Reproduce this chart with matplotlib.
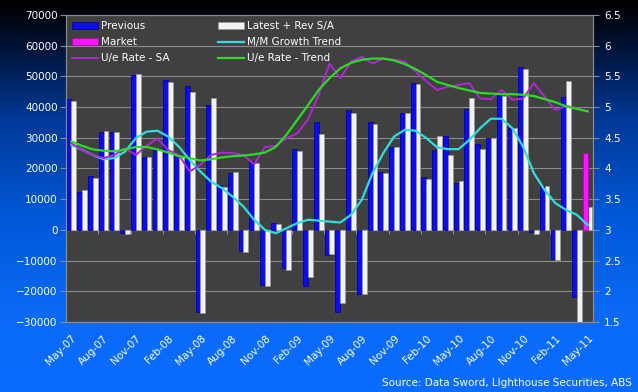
import numpy as np
import pandas as pd
import matplotlib
matplotlib.use("Agg")
import matplotlib.pyplot as plt
from matplotlib.colors import LinearSegmentedColormap
from matplotlib.ticker import FormatStrFormatter

# monthly categories May-07 .. May-11, labelled every third month
MONTHS = pd.date_range("2007-05-01", "2011-05-01", freq="MS").strftime("%b-%y").tolist()
TICK_LABELS = MONTHS[::3]

# employment change (persons)
PREVIOUS = [42500, 12500, 17600, 32000, 32000, -1000, 50500, 23900, 26100, 48900,
            24500, 46900, -26600, 40700, 14700, 18500, -6900, 22300, -17900, 2200,
            -12500, 26300, -18200, 35000, -8200, -26600, 39100, -20800, 35100, 18800,
            27100, 38200, 48000, 17200, 26000, 30600, 15200, 39300, 28000, 29900,
            44000, 33300, 53000, -600, 14200, -9500, 43200, -21900, np.nan]
LATEST = [42000, 13000, 17000, 32300, 32000, -1300, 50700, 23700, 26100, 48300,
          24000, 45000, -27100, 43100, 14100, 18800, -7100, 21800, -18200, 1800,
          -13000, 25700, -15400, 31300, -8000, -23700, 38000, -20800, 34500, 18500,
          27100, 38000, 47600, 16500, 30600, 24400, 16000, 43100, 26400, 29900,
          43600, 33300, 52400, -1300, 14200, -9800, 48500, -29900, 7600]
MARKET_MONTHS = ["May-11"]
MARKET = [25000]
MM_TREND = [27700, 26100, 24400, 23000, 23400, 25500, 29900, 32000, 32300, 30400,
            27100, 22800, 19000, 15700, 13600, 10800, 7600, 3300, 0, -1100,
            550, 2200, 3300, 3000, 2700, 2400, 4900, 9800, 18500, 25000,
            30400, 32600, 32300, 29900, 26900, 26300, 26300, 29300, 33100, 36200,
            36200, 33100, 27100, 18500, 13000, 8700, 6500, 4900, 1600]

# unemployment rate (%), right axis
UE_SA = [4.41, 4.30, 4.22, 4.17, 4.22, 4.33, 4.22, 4.37, 4.49, 4.30,
         4.22, 3.95, 4.06, 4.22, 4.26, 4.25, 4.22, 4.07, 4.35, 4.37,
         4.49, 4.57, 4.80, 5.20, 5.71, 5.47, 5.74, 5.82, 5.71, 5.79,
         5.77, 5.74, 5.58, 5.42, 5.28, 5.33, 5.36, 5.39, 5.14, 5.13,
         5.28, 5.12, 5.14, 5.39, 5.17, 4.95, 5.02, 4.98, 4.93]
UE_TREND = [4.44, 4.37, 4.31, 4.29, 4.28, 4.31, 4.35, 4.35, 4.31, 4.26,
            4.20, 4.17, 4.13, 4.15, 4.18, 4.20, 4.21, 4.23, 4.26, 4.35,
            4.55, 4.79, 5.03, 5.28, 5.47, 5.63, 5.72, 5.77, 5.79, 5.79,
            5.76, 5.70, 5.62, 5.52, 5.41, 5.36, 5.31, 5.27, 5.23, 5.22,
            5.21, 5.21, 5.20, 5.18, 5.13, 5.08, 5.01, 4.97, 4.93]

GRID = "#8c8c8c"

fig = plt.figure(figsize=(6.38, 3.92), dpi=100)

# black -> blue background gradient
bg = fig.add_axes([0, 0, 1, 1], zorder=-10)
bg.axis("off")
cmap = LinearSegmentedColormap.from_list(
    "bg", [(0, "#000000"), (0.06, "#000818"), (0.3, "#003896"),
           (0.55, "#0058d6"), (0.8, "#0a6af6"), (1, "#0a6cff")])
bg.imshow(np.linspace(0, 1, 256).reshape(-1, 1), aspect="auto", cmap=cmap,
          extent=[0, 1, 0, 1])
bg.set_xlim(0, 1)
bg.set_ylim(0, 1)

ax = fig.add_axes([0.1034, 0.1786, 0.8261, 0.7832])
ax.set_facecolor("#404040")

x = np.arange(len(MONTHS))
w = 0.45
b_prev = ax.bar(x - w / 2, PREVIOUS, w, color="#0c0cf0", edgecolor="#000090",
                linewidth=0.5, zorder=2)
b_latest = ax.bar(x + w / 2, LATEST, w, color="#f2f2f2", edgecolor="#9a9a9a",
                  linewidth=0.5, zorder=2)
mx = np.array([MONTHS.index(m) for m in MARKET_MONTHS])
b_market = ax.bar(mx - w / 2, MARKET, w, color="#ff14ff", edgecolor="#b000b0",
                  linewidth=0.5, zorder=2)
l_mm, = ax.plot(x, MM_TREND, color="#2fdede", linewidth=1.6, zorder=3)

ax.set_xlim(-0.5, len(MONTHS) - 0.5)
ax.set_ylim(-30000, 70000)
ax.set_yticks(range(-30000, 70001, 10000))
ax.yaxis.grid(True, color=GRID, linewidth=0.8)
ax.set_axisbelow(True)
ax.set_xticks(x[::3])
ax.set_xticklabels(TICK_LABELS, rotation=45, ha="right", rotation_mode="anchor")
ax.tick_params(axis="x", length=0, labelcolor="white", labelsize=7.5, pad=8)
ax.tick_params(axis="y", length=4, color=GRID, labelcolor="white",
               labelsize=7.5, pad=2)

# category tick marks sit on the zero line
sec = ax.secondary_xaxis(0.3)
sec.set_xticks(np.arange(-0.5, len(MONTHS), 3))
sec.tick_params(direction="out", length=3, color=GRID, labelbottom=False)
sec.spines["bottom"].set_color(GRID)

ax2 = ax.twinx()
l_sa, = ax2.plot(x, UE_SA, color="#b026d6", linewidth=1.4, zorder=3)
l_tr, = ax2.plot(x, UE_TREND, color="#2add22", linewidth=1.6, zorder=3)
ax2.set_ylim(1.5, 6.5)
ax2.set_yticks(np.arange(1.5, 6.51, 0.5))
ax2.yaxis.set_major_formatter(FormatStrFormatter("%g"))
ax2.tick_params(axis="y", length=4, color=GRID, labelcolor="white",
                labelsize=7.5, pad=4)

for a in (ax, ax2):
    for s in a.spines.values():
        s.set_color(GRID)
        s.set_linewidth(0.8)

handles = [b_prev, b_market, l_sa, b_latest, l_mm, l_tr]
labels = ["Previous", "Market", "U/e Rate - SA",
          "Latest + Rev S/A", "M/M Growth Trend", "U/e Rate - Trend"]
ax2.legend(handles, labels, ncol=2, loc="upper left",
           bbox_to_anchor=(0.0114, 0.98), frameon=False, fontsize=7.5,
           labelcolor="white", handlelength=2.5, handletextpad=0.3,
           columnspacing=4.6, labelspacing=0.58, borderpad=0, borderaxespad=0)

fig.text(632 / 638, 1 - 383 / 392, "Source: Data Sword, LIghthouse Securities, ABS",
         ha="right", va="center", color="white", fontsize=7.5)

fig.savefig("out.png", dpi=100)
